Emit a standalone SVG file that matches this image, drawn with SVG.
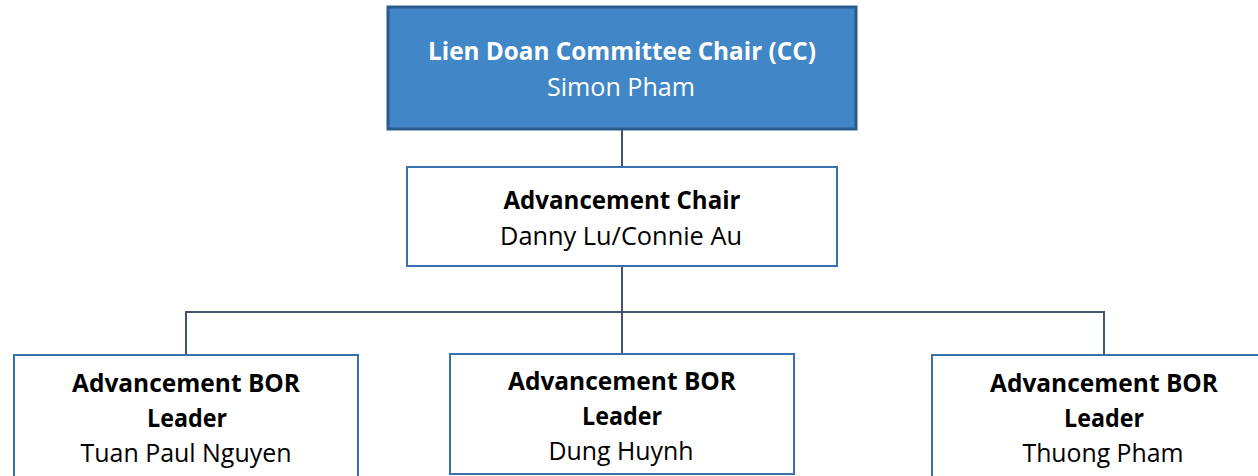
<svg xmlns="http://www.w3.org/2000/svg" width="1258" height="476" viewBox="0 0 1258 476">
<style>
.box{fill:#ffffff;stroke:#3a70ad;stroke-width:2}
.top{fill:#4186c6;stroke:#2b5b8c;stroke-width:3}
.t{font-family:"Open Sans","Liberation Sans",sans-serif;font-size:25px;text-anchor:middle;fill:#000}
.b{font-weight:bold}
.w{fill:#ffffff}
.conn{fill:none;stroke:#44546a;stroke-width:2}
</style>
<rect x="0" y="0" width="1258" height="476" fill="#ffffff"/>
<g id="connectors">
<path class="conn" d="M622 130 V167"/>
<path class="conn" d="M622 266 V354"/>
<path class="conn" d="M186 355 V312 H1104 V355"/>
</g>
<g id="cc">
<rect class="top" x="388" y="7" width="468" height="122"/>
<text class="t b w" x="622" y="60" textLength="388" lengthAdjust="spacingAndGlyphs">Lien Doan Committee Chair (CC)</text>
<text class="t w" x="621" y="96" textLength="148" lengthAdjust="spacingAndGlyphs">Simon Pham</text>
</g>
<g id="advchair">
<rect class="box" x="407" y="167" width="430" height="99"/>
<text class="t b" x="622" y="209" textLength="237" lengthAdjust="spacingAndGlyphs">Advancement Chair</text>
<text class="t" x="621" y="245" textLength="242" lengthAdjust="spacingAndGlyphs">Danny Lu/Connie Au</text>
</g>
<g id="bor1">
<rect class="box" x="14" y="355" width="344" height="130"/>
<text class="t b" x="186" y="392" textLength="228" lengthAdjust="spacingAndGlyphs">Advancement BOR</text>
<text class="t b" x="187" y="427" textLength="80" lengthAdjust="spacingAndGlyphs">Leader</text>
<text class="t" x="186" y="462" textLength="211" lengthAdjust="spacingAndGlyphs">Tuan Paul Nguyen</text>
</g>
<g id="bor2">
<rect class="box" x="450" y="354" width="344" height="120"/>
<text class="t b" x="622" y="390" textLength="228" lengthAdjust="spacingAndGlyphs">Advancement BOR</text>
<text class="t b" x="622" y="425" textLength="80" lengthAdjust="spacingAndGlyphs">Leader</text>
<text class="t" x="621" y="460" textLength="145" lengthAdjust="spacingAndGlyphs">Dung Huynh</text>
</g>
<g id="bor3">
<rect class="box" x="932" y="355" width="344" height="130"/>
<text class="t b" x="1104" y="392" textLength="228" lengthAdjust="spacingAndGlyphs">Advancement BOR</text>
<text class="t b" x="1104" y="427" textLength="80" lengthAdjust="spacingAndGlyphs">Leader</text>
<text class="t" x="1103" y="462" textLength="161" lengthAdjust="spacingAndGlyphs">Thuong Pham</text>
</g>
</svg>
